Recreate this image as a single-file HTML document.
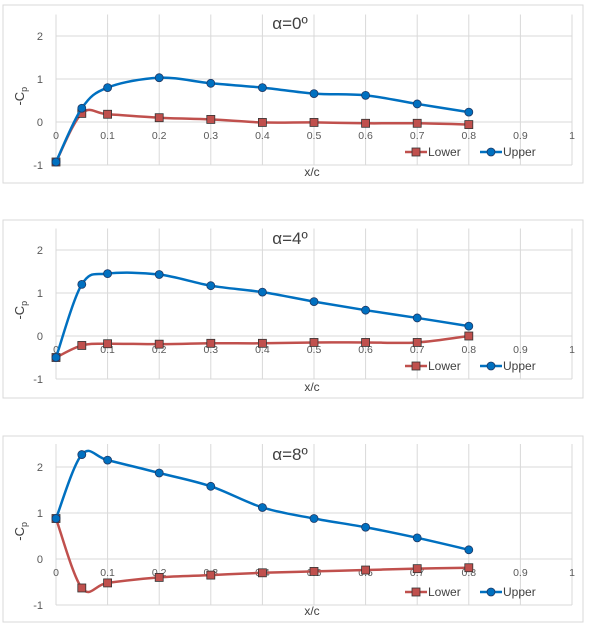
<!DOCTYPE html>
<html><head><meta charset="utf-8"><style>
body{margin:0;background:#fff;width:600px;height:626px;overflow:hidden}
svg{display:block;font-family:"Liberation Sans",sans-serif}
</style></head><body>
<svg id="s" width="600" height="626"></svg>
<script>
const xVals=[0,0.05,0.1,0.2,0.3,0.4,0.5,0.6,0.7,0.8];
const up0=[-0.93,0.32,0.8,1.03,0.9,0.8,0.66,0.62,0.42,0.23];
const lo0=[-0.93,0.2,0.18,0.1,0.06,-0.01,-0.01,-0.03,-0.03,-0.06];
const up4=[-0.5,1.2,1.45,1.43,1.17,1.02,0.8,0.6,0.42,0.23];
const lo4=[-0.5,-0.22,-0.18,-0.19,-0.17,-0.17,-0.15,-0.15,-0.15,0.0];
const up8=[0.88,2.27,2.15,1.87,1.58,1.12,0.88,0.69,0.46,0.2];
const lo8=[0.88,-0.63,-0.52,-0.4,-0.35,-0.3,-0.27,-0.24,-0.21,-0.19];
const xTicks=[0,0.1,0.2,0.3,0.4,0.5,0.6,0.7,0.8,0.9,1];
const yTicks=[2,1,0,-1];
const titles=["α=0º","α=4º","α=8º"];
const charts=[
 {t:titles[0],up:up0,lo:lo0,fy:5,fh:178,y0:122,dy:43},
 {t:titles[1],up:up4,lo:lo4,fy:220,fh:178,y0:336,dy:43},
 {t:titles[2],up:up8,lo:lo8,fy:436,fh:186,y0:559,dy:46}
];
const NS="http://www.w3.org/2000/svg";
const s=document.getElementById('s');
function el(tag,a,p){const e=document.createElementNS(NS,tag);for(const k in a)e.setAttribute(k,a[k]);(p||s).appendChild(e);return e;}
const X0=56,X1=572;
const sx=v=>X0+(X1-X0)*v;
function smooth(pts){let d=`M${pts[0][0]},${pts[0][1]}`;for(let i=0;i<pts.length-1;i++){const p0=pts[i-1]||pts[i],p1=pts[i],p2=pts[i+1],p3=pts[i+2]||p2;const t=0.5/3;d+=` C${p1[0]+(p2[0]-p0[0])*t},${p1[1]+(p2[1]-p0[1])*t} ${p2[0]-(p3[0]-p1[0])*t},${p2[1]-(p3[1]-p1[1])*t} ${p2[0]},${p2[1]}`;}return d;}
charts.forEach((c,ci)=>{
 const g=el('g',{});
 
 
 const sy=v=>c.y0-c.dy*v;
 el('rect',{x:3,y:c.fy,width:580,height:c.fh,fill:'#fff',stroke:'#d9d9d9'},g);
 const top=sy(2.5),bot=sy(-1);
 xTicks.forEach(t=>{el('line',{x1:sx(t),x2:sx(t),y1:top,y2:bot,stroke:'#d9d9d9'},g);});
 yTicks.forEach(t=>{el('line',{x1:X0,x2:X1,y1:sy(t),y2:sy(t),stroke:'#d9d9d9'},g);
  const l=el('text',{x:X0-13,y:sy(t)+4,'font-size':11,fill:'#595959','text-anchor':'end'},g);l.textContent=t;
  });
 xTicks.forEach(t=>{const l=el('text',{x:sx(t),y:sy(0)+17,'font-size':10.5,fill:'#595959','text-anchor':'middle'},g);l.textContent=t;
  });
 const ti=el('text',{x:290,y:c.fy+24,'font-size':17,fill:'#404040','text-anchor':'middle'},g);ti.textContent=c.t;
 
 const yl=el('text',{x:0,y:0,'font-size':13,fill:'#404040','text-anchor':'middle',transform:`translate(24,${sy(0.6)}) rotate(-90)`},g);
 yl.innerHTML='-C<tspan font-size="9" dy="3">p</tspan>';
 
 const xl=el('text',{x:312,y:c.fy+c.fh-7,'font-size':12,fill:'#404040','text-anchor':'middle'},g);xl.textContent='x/c';
 
 [[c.lo,'#c0504d','sq','lower-series'],[c.up,'#0070c0','ci','upper-series']].forEach(([ys,col,m,nm])=>{
  const pts=xVals.map((x,i)=>[sx(x),sy(ys[i])]);
  const p=el('path',{d:smooth(pts),fill:'none',stroke:col,'stroke-width':2.5},g);
  
  pts.forEach(q=>{let mk;
   if(m==='sq')mk=el('rect',{x:q[0]-4,y:q[1]-4,width:8,height:8,fill:'#c0504d',stroke:'#333','stroke-width':0.8},g);
   else mk=el('circle',{cx:q[0],cy:q[1],r:4,fill:'#0070c0',stroke:'#1f3864','stroke-width':0.8},g);
   });
 });
 const ly=sy(-1)-13;
 const lg=el('g',{},g);
 el('line',{x1:405,x2:427,y1:ly,y2:ly,stroke:'#c0504d','stroke-width':2.5},lg);
 el('rect',{x:412,y:ly-4,width:8,height:8,fill:'#c0504d',stroke:'#333','stroke-width':0.8},lg);
 const t1=el('text',{x:428,y:ly+4,'font-size':12,fill:'#404040'},lg);t1.textContent='Lower';
 el('line',{x1:480,x2:502,y1:ly,y2:ly,stroke:'#0070c0','stroke-width':2.5},lg);
 el('circle',{cx:491,cy:ly,r:4,fill:'#0070c0',stroke:'#1f3864','stroke-width':0.8},lg);
 const t2=el('text',{x:503,y:ly+4,'font-size':12,fill:'#404040'},lg);t2.textContent='Upper';
});
</script>
</body></html>
